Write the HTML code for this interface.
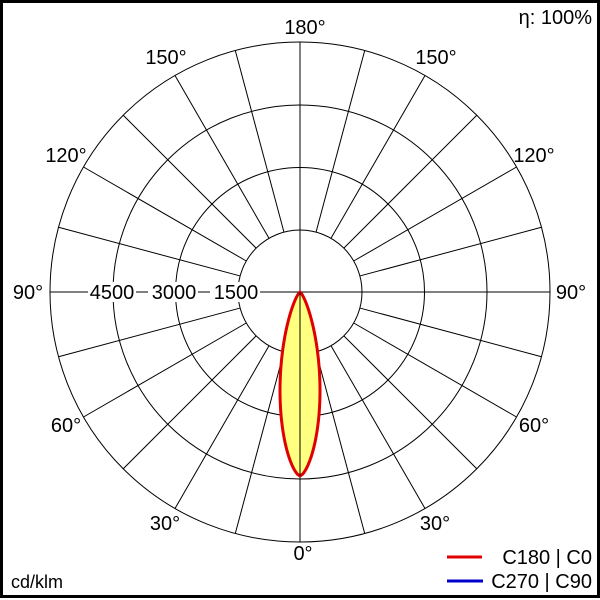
<!DOCTYPE html>
<html><head><style>
html,body{margin:0;padding:0;background:#fff}
svg{display:block}
text{font-family:"Liberation Sans",Arial,sans-serif;font-size:20px;fill:#000}
</style></head><body>
<svg id="s" width="600" height="600" xmlns="http://www.w3.org/2000/svg">
<rect x="0" y="0" width="600" height="600" fill="#fff"/>
<g id="grid" stroke="#000" stroke-width="1" fill="none">
<circle cx="300" cy="292" r="62"/>
<circle cx="300" cy="292" r="124.5"/>
<circle cx="300" cy="292" r="187"/>
<circle cx="300" cy="292" r="250"/>
<line x1="50" y1="292" x2="550" y2="292"/>
<line x1="300" y1="42" x2="300" y2="542"/>
</g>
<path id="lobe" fill="#ffff80" stroke="#e00000" stroke-width="3" stroke-linejoin="round"/>
<line x1="300" y1="292" x2="300" y2="476" stroke="#000" stroke-width="1"/>
<g fill="#fff">
<rect x="88" y="282" width="48" height="20"/>
<rect x="148" y="282" width="50" height="20"/>
<rect x="210" y="282" width="50" height="20"/>
</g>
<text x="112" y="299" text-anchor="middle">4500</text>
<text x="174" y="299" text-anchor="middle">3000</text>
<text x="236" y="299" text-anchor="middle">1500</text>
<text x="305" y="34" text-anchor="middle">180°</text>
<text x="166" y="64" text-anchor="middle">150°</text>
<text x="436" y="64" text-anchor="middle">150°</text>
<text x="66" y="162" text-anchor="middle">120°</text>
<text x="534" y="162" text-anchor="middle">120°</text>
<text x="28" y="299" text-anchor="middle">90°</text>
<text x="571" y="299" text-anchor="middle">90°</text>
<text x="66" y="432" text-anchor="middle">60°</text>
<text x="534" y="432" text-anchor="middle">60°</text>
<text x="165" y="530" text-anchor="middle">30°</text>
<text x="435" y="530" text-anchor="middle">30°</text>
<text x="303" y="560" text-anchor="middle">0°</text>
<text x="592" y="24" text-anchor="end">η: 100%</text>
<text x="11" y="588" style="font-size:18px">cd/klm</text>
<line x1="447" y1="557" x2="482" y2="557" stroke="#e00000" stroke-width="3"/>
<line x1="447" y1="581" x2="483" y2="581" stroke="#0000cc" stroke-width="3"/>
<text x="592" y="564" text-anchor="end">C180 | C0</text>
<text x="592" y="588" text-anchor="end">C270 | C90</text>
<rect x="1.5" y="1.5" width="597" height="595" fill="none" stroke="#000" stroke-width="3"/>
</svg>
<script>
var g=document.getElementById('grid'),cx=300,cy=292;
for(var a=0;a<360;a+=15){if(a%90==0)continue;var t=a*Math.PI/180;
var l=document.createElementNS('http://www.w3.org/2000/svg','line');
l.setAttribute('x1',cx+62*Math.sin(t));l.setAttribute('y1',cy+62*Math.cos(t));
l.setAttribute('x2',cx+250*Math.sin(t));l.setAttribute('y2',cy+250*Math.cos(t));g.appendChild(l);}
var A=0.75,B=0.65,pk=A/(A+B);
var L=184,W=20,mx=Math.pow(pk,A)*Math.pow(1-pk,B);
var R=[],Lf=[];
for(var i=0;i<=100;i++){var s=i/100;var w=W*Math.pow(s,A)*Math.pow(1-s,B)/mx;
R.push((cx+w).toFixed(2)+','+(cy+s*L).toFixed(2));Lf.unshift((cx-w).toFixed(2)+','+(cy+s*L).toFixed(2));}
document.getElementById('lobe').setAttribute('d','M'+R.concat(Lf).join(' L')+' Z');
</script>
</body></html>
